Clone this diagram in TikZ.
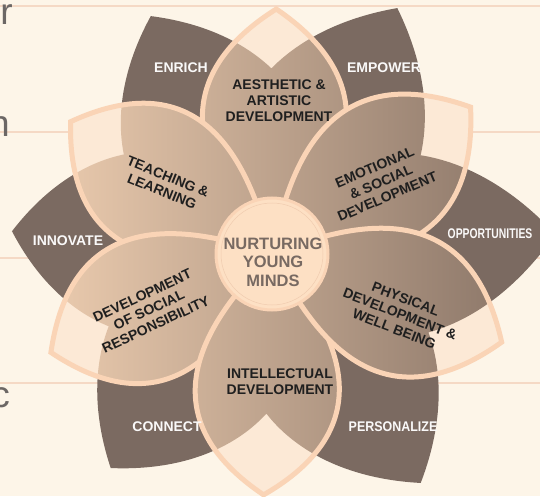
\documentclass[tikz,border=0pt]{standalone}
\usepackage{fontspec}
\setmainfont{Liberation Sans}
\usepackage{graphicx}
\definecolor{Bg}{RGB}{253,245,232}
\definecolor{Rule}{RGB}{245,217,197}
\definecolor{Bark}{RGB}{123,106,97}
\definecolor{Cream}{RGB}{252,233,214}
\definecolor{Rim}{RGB}{250,212,182}
\definecolor{TanL}{RGB}{236,204,175}
\definecolor{TanR}{RGB}{140,119,105}
\definecolor{Hub}{RGB}{253,224,196}
\definecolor{HubRing}{RGB}{240,204,176}
\definecolor{HubText}{RGB}{120,106,98}
\definecolor{Slate}{RGB}{108,103,101}

\begin{document}
\begin{tikzpicture}[x=1pt,y=1pt]
        \tikzset{ outlabel/.style={text=white!96!Bark, font=\bfseries\fontsize{14}{16}\selectfont, align=center} }
        \tikzset{ inlabel/.style ={text=black!88, font=\bfseries\fontsize{14}{16}\selectfont, align=center} }
        \tikzset{ hubtext/.style ={text=HubText, font=\bfseries\fontsize{16.5}{18.5}\selectfont, align=center} }
        \tikzset{ cut/.style     ={text=Slate, font=\fontsize{37}{40}\selectfont, anchor=base east, inner sep=0pt} }
        \tikzset{ rim/.style     ={draw=Rim, line width=5pt} }

        \useasboundingbox (0,0) rectangle (540,496);
        \fill[Bg] (0,0) rectangle (540,496);
        \foreach \y in {490,364,238,113}
          \draw[Rule, line width=1.6pt] (0,\y) -- (540,\y);

        \node[cut] (r) at (13,471) {r};
        \node[cut] (n) at (10,359) {n};
        \node[cut] (c) at (10,89)  {c};

        \begin{scope}[shift={(272,242)}]
          % outer dark leaves
          \foreach \a/\l in {117/267, 63/276, 4/284, -57/273, -127/268, 175/261}
            \fill[Bark] (0,0) .. controls (\a+74.7:114) and (\a+37.7:221) .. (\a:\l)
                              .. controls (\a-37.7:221) and (\a-74.7:114) .. (0,0);

          % inner light petals
          \foreach \a/\l in {89/245, 146.7/241, 204/242, 268/241, 36.5/247, 339/246} {
            \fill[Cream] (0,0) .. controls (\a+42.5:81.4) and (\a+39.1:206.2) .. (\a:\l)
                               .. controls (\a-39.1:206.2) and (\a-42.5:81.4) .. cycle;
            \begin{scope}
              \clip (0,0) .. controls (\a+42.5:81.4) and (\a+39.1:206.2) .. (\a:\l)
                          .. controls (\a-39.1:206.2) and (\a-42.5:81.4) .. cycle;
              \clip foreach \b/\m in {117/267, 63/276, 4/284, -57/273, -127/268, 175/261}
                {(0,0) .. controls (\b+74.7:114) and (\b+37.7:221) .. (\b:\m)
                       .. controls (\b-37.7:221) and (\b-74.7:114) .. (0,0)};
              \shade[left color=TanL, right color=TanR] (-230,-260) rectangle (240,260);
            \end{scope}
            \draw[rim] (0,0) .. controls (\a+42.5:81.4) and (\a+39.1:206.2) .. (\a:\l)
                             .. controls (\a-39.1:206.2) and (\a-42.5:81.4) .. cycle;
          }

          % hub
          \fill[Hub, draw=Rim, line width=3pt] (0,0) circle (56);
          \draw[HubRing, line width=0.5pt] (0,0) circle (51);
        \end{scope}

        \node[hubtext] (hub) at (273,234) {NURTURING\\YOUNG\\MINDS};

        \node[inlabel]             (aesthetic)    at (279,395) {AESTHETIC \&\\ARTISTIC\\DEVELOPMENT};
        \node[inlabel, rotate=23]  (emotional)    at (381,314) {EMOTIONAL\\\& SOCIAL\\DEVELOPMENT};
        \node[inlabel, rotate=-21] (physical)     at (400,182) {PHYSICAL\\DEVELOPMENT \&\\WELL BEING};
        \node[inlabel]             (intellectual) at (280,114) {INTELLECTUAL\\DEVELOPMENT};
        \node[inlabel, rotate=25]  (social)       at (149,186) {DEVELOPMENT\\OF SOCIAL\\RESPONSIBILITY};
        \node[inlabel, rotate=-22] (teaching)     at (165,312) {TEACHING \&\\LEARNING};

        \node[outlabel] (enrich)        at (181,428) {ENRICH};
        \node[outlabel] (empower)       at (384,428) {EMPOWER};
        \node[outlabel] (opportunities) at (490,262) {\scalebox{0.74}[1]{OPPORTUNITIES}};
        \node[outlabel] (innovate)      at (68,255)  {INNOVATE};
        \node[outlabel] (connect)       at (167,69)  {CONNECT};
        \node[outlabel] (personalize)   at (393,69)  {\scalebox{0.89}[1]{PERSONALIZE}};
      \end{tikzpicture}
\end{document}
